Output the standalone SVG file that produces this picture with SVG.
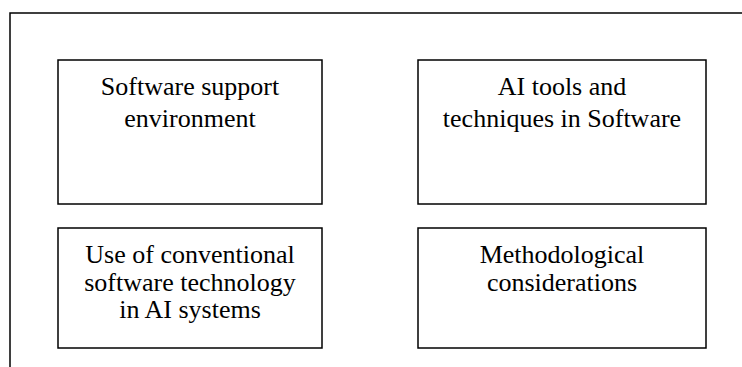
<svg xmlns="http://www.w3.org/2000/svg" width="742" height="367" viewBox="0 0 742 367">
  <style>
    .frame { fill: none; stroke: #000; stroke-width: 1.5; }
    .box { fill: #fff; stroke: #000; stroke-width: 1.5; }
    .label { font-family: "Liberation Serif", "Times New Roman", serif; font-size: 26px; fill: #000; text-anchor: middle; }
  </style>
  <rect width="742" height="367" fill="#fff"/>
  <!-- outer frame, open at the right and bottom -->
  <g id="frame">
    <path class="frame" d="M10 367 V13 H742"/>
  </g>
  <g id="connectors"></g>
  <g id="node-software-support">
    <rect class="box" x="58" y="60" width="264" height="144"/>
    <text class="label" x="190" y="95">Software support</text>
    <text class="label" x="190" y="127">environment</text>
  </g>
  <g id="node-ai-tools">
    <rect class="box" x="418" y="60" width="288" height="144"/>
    <text class="label" x="562" y="95">AI tools and</text>
    <text class="label" x="562" y="127">techniques in Software</text>
  </g>
  <g id="node-conventional">
    <rect class="box" x="58" y="228" width="264" height="120"/>
    <text class="label" x="190" y="263">Use of conventional</text>
    <text class="label" x="190" y="291">software technology</text>
    <text class="label" x="190" y="318">in AI systems</text>
  </g>
  <g id="node-methodological">
    <rect class="box" x="418" y="228" width="288" height="120"/>
    <text class="label" x="562" y="263">Methodological</text>
    <text class="label" x="562" y="291">considerations</text>
  </g>
</svg>
